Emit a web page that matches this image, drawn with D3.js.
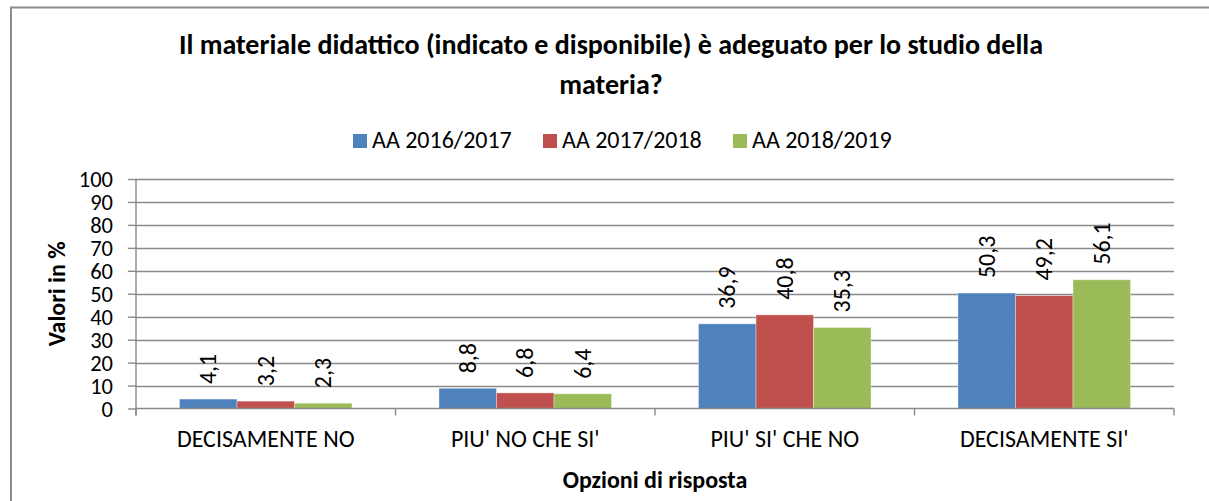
<!DOCTYPE html>
<html>
<head>
<meta charset="utf-8">
<script src="https://cdn.jsdelivr.net/npm/d3@7"></script>
<style>
  body { margin: 0; background: #fff; }
  text { font-family: Calibri, Carlito, Lato, sans-serif; fill: #000; }
</style>
</head>
<body>
<svg id="chart" width="1209" height="501"></svg>
<script>
// data
var categories = ["DECISAMENTE NO", "PIU' NO CHE SI'", "PIU' SI' CHE NO", "DECISAMENTE SI'"];
var seriesNames = ["AA 2016/2017", "AA 2017/2018", "AA 2018/2019"];
var values2016 = [4.1, 8.8, 36.9, 50.3];
var values2017 = [3.2, 6.8, 40.8, 49.2];
var values2018 = [2.3, 6.4, 35.3, 56.1];
var yTicks = [0, 10, 20, 30, 40, 50, 60, 70, 80, 90, 100];
var colors = ["#4F81BD", "#C0504D", "#9BBB59"];

var seriesValues = [values2016, values2017, values2018];
var rows = categories.map((c, i) => ({
    cat: c,
    vals: seriesValues.map((s, j) => ({ key: seriesNames[j], value: s[i], idx: j }))
}));

var svg = d3.select("#chart"),
    margin = { left: 136, right: 35, top: 179, bottom: 92 },
    width = +svg.attr("width"),
    height = +svg.attr("height"),
    gridColor = "#8a8a8a";

// outer frame (runs off the right and bottom edge)
svg.append("rect")
    .attr("x", 11).attr("y", 7.5)
    .attr("width", 1215).attr("height", 520)
    .attr("fill", "none")
    .attr("stroke", "#8c8c8c")
    .attr("stroke-width", 2);

var x = d3.scaleBand()
    .domain(categories)
    .range([margin.left, width - margin.right]);

var xInner = d3.scaleBand()
    .domain(seriesNames)
    .range([0, x.bandwidth()])
    .paddingOuter(0.756); // 43.5px gap each side of a 172px group

var y = d3.scaleLinear()
    .domain([0, 100])
    .range([height - margin.bottom - 0.5, margin.top]);

// gridlines
svg.append("g")
    .selectAll("line")
    .data(yTicks.slice(1))
    .join("line")
    .attr("x1", margin.left)
    .attr("x2", width - margin.right)
    .attr("y1", d => Math.round(y(d)) + 0.5)
    .attr("y2", d => Math.round(y(d)) + 0.5)
    .attr("stroke", gridColor)
    .attr("stroke-width", 1.4);

// y axis
var yAxis = d3.axisLeft(y).tickValues(yTicks).tickSize(8).tickPadding(15).tickSizeOuter(0);
var gy = svg.append("g")
    .attr("transform", `translate(${margin.left},0)`)
    .call(yAxis);
gy.select(".domain").remove();
gy.selectAll("line").attr("stroke", gridColor).attr("stroke-width", 1.4);
gy.selectAll("text").style("font-size", "22.5px").attr("font-family", null).attr("dy", "0.34em");
gy.append("line")
    .attr("x1", 0).attr("x2", 0)
    .attr("y1", margin.top).attr("y2", y(0) + 7)
    .attr("stroke", gridColor).attr("stroke-width", 1.4);

// bars
var groups = svg.append("g")
    .selectAll("g")
    .data(rows)
    .join("g")
    .attr("transform", d => `translate(${x(d.cat)},0)`);

groups.selectAll("rect")
    .data(d => d.vals)
    .join("rect")
    .attr("x", d => xInner(d.key))
    .attr("width", xInner.bandwidth())
    .attr("y", d => y(d.value))
    .attr("height", d => y(0) - y(d.value))
    .attr("fill", d => colors[d.idx])
    .attr("stroke", "rgba(255,255,255,0.35)")
    .attr("stroke-width", 1);

// value labels, rotated
groups.selectAll("text")
    .data(d => d.vals)
    .join("text")
    .attr("transform", d => `translate(${xInner(d.key) + xInner.bandwidth() / 2 + 8},${y(d.value) - 15}) rotate(-90)`)
    .attr("text-anchor", "start")
    .style("font-size", "24px")
    .text(d => d3.format(".1f")(d.value).replace(".", ","));

// x axis
var gx = svg.append("g")
    .attr("transform", `translate(0,${y(0)})`);
gx.append("line")
    .attr("x1", margin.left).attr("x2", width - margin.right)
    .attr("stroke", gridColor).attr("stroke-width", 1.4);
gx.selectAll(".tick")
    .data(categories.map(c => x(c)).concat([width - margin.right]))
    .join("line")
    .attr("class", "tick")
    .attr("x1", d => d).attr("x2", d => d)
    .attr("y1", 0).attr("y2", 7)
    .attr("stroke", gridColor).attr("stroke-width", 1.4);
gx.selectAll("text")
    .data(categories)
    .join("text")
    .attr("x", d => x(d) + x.bandwidth() / 2)
    .attr("y", 38)
    .attr("text-anchor", "middle")
    .style("font-size", "24px")
    .text(d => d);

// axis titles
svg.append("text")
    .attr("transform", `translate(65,${(y(0) + y(100)) / 2}) rotate(-90)`)
    .attr("text-anchor", "middle")
    .style("font-size", "24px")
    .style("font-weight", "bold")
    .text("Valori in %");

svg.append("text")
    .attr("x", margin.left + (width - margin.right - margin.left) / 2)
    .attr("y", 488)
    .attr("text-anchor", "middle")
    .style("font-size", "24px")
    .style("font-weight", "bold")
    .text("Opzioni di risposta");

// title
var title = svg.append("text")
    .attr("text-anchor", "middle")
    .style("font-size", "28px")
    .style("font-weight", "bold");
title.append("tspan").attr("x", 611).attr("y", 54)
    .text("Il materiale didattico (indicato e disponibile) è adeguato per lo studio della");
title.append("tspan").attr("x", 611).attr("y", 94)
    .text("materia?");

// legend
var legendX = [353, 543, 733];
var legend = svg.append("g")
    .selectAll("g")
    .data(seriesNames)
    .join("g")
    .attr("transform", (d, i) => `translate(${legendX[i]},134)`);
legend.append("rect")
    .attr("width", 14).attr("height", 14)
    .attr("fill", (d, i) => colors[i]);
legend.append("text")
    .attr("x", 19).attr("y", 14)
    .style("font-size", "24px")
    .text(d => d);
</script>
</body>
</html>
